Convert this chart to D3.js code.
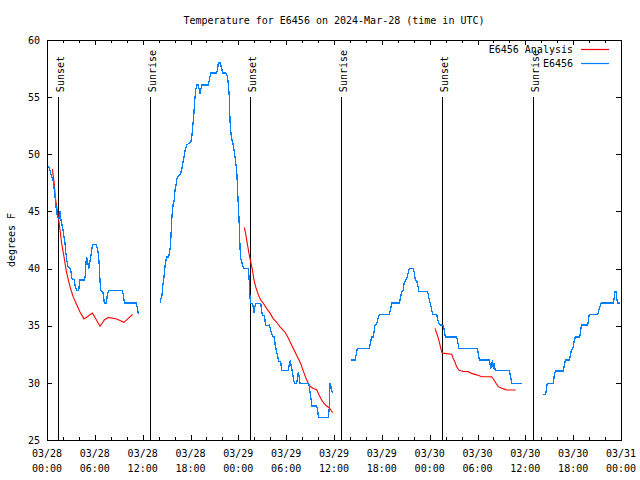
<!DOCTYPE html>
<html>
<head>
<meta charset="utf-8">
<script src="https://cdn.jsdelivr.net/npm/d3@7"></script>
<style>
  html, body { margin: 0; padding: 0; background: #fff; }
  svg { display: block; }
  text { font-family: "DejaVu Sans Mono", "Liberation Mono", monospace; font-size: 10px; fill: #000; }
</style>
</head>
<body>
<div id="chart"></div>
<script>
// ---------------- DATA ----------------
// Times are hours after 2024-03-28 00:00 UTC; values in degrees F
const titleText = "Temperature for E6456 on 2024-Mar-28 (time in UTC)";
const yLabelText = "degrees F";
const seriesNames = ["E6456 Analysis", "E6456"];
const seriesColors = ["#ff0000", "#0080ff"];
const yTickValues = [25, 30, 35, 40, 45, 50, 55, 60];
const yDomain = [25, 60];
const xStartISO = "2024-03-28T00:00:00Z";
const xEndISO = "2024-03-31T00:00:00Z";

const sunLabels = ["Sunset", "Sunrise", "Sunset", "Sunrise", "Sunset", "Sunrise"];
const sunHours = [1.42, 12.96, 25.5, 36.92, 49.59, 61.0];
const sunLineTop = 55;

// Observed E6456 (blue), segments separated by data gaps
const obsSeg1 = [[0.17,49.0],[0.38,48.6],[0.59,48.0],[0.8,47.6],[1.0,46.4],[1.21,44.8],[1.42,44.4],[1.55,44.4],[1.63,45.0],[1.76,44.25],[1.97,43.5],[2.13,42.8],[2.26,42.2],[2.38,41.3],[2.47,40.75],[2.63,40.2],[2.89,40.0],[3.01,39.7],[3.14,39.1],[3.43,39.0],[3.55,38.4],[3.72,38.1],[3.97,38.1],[4.14,39.0],[4.68,39.0],[4.81,39.4],[4.89,40.5],[4.97,41.0],[5.1,40.6],[5.23,40.0],[5.39,40.6],[5.52,41.2],[5.64,41.8],[5.73,42.1],[6.15,42.1],[6.31,41.8],[6.44,41.3],[6.56,40.3],[6.65,38.9],[6.73,38.1],[6.98,38.0],[7.06,37.7],[7.19,37.0],[7.44,37.0],[7.57,37.7],[7.74,38.1],[9.41,38.1],[9.58,37.7],[9.7,37.0],[11.16,37.0],[11.29,36.7],[11.41,36.2],[11.5,36.0]];
const obsSeg2 = [[14.21,36.96],[14.30,37.4],[14.43,37.7],[14.51,38.5],[14.64,39.0],[14.71,39.5],[14.80,40.2],[14.93,40.75],[15.05,41.0],[15.27,41.0],[15.34,41.3],[15.47,41.9],[15.55,42.8],[15.64,44.25],[15.77,45.3],[15.84,45.7],[15.97,46.0],[16.06,46.9],[16.18,47.3],[16.31,47.9],[16.47,48.1],[16.68,48.2],[16.89,48.6],[17.02,49.2],[17.19,49.8],[17.35,50.4],[17.52,50.8],[18.06,51.1],[18.19,51.7],[18.27,52.4],[18.40,53.3],[18.52,54.6],[18.65,55.6],[18.77,56.06],[18.94,56.06],[19.07,55.77],[19.19,55.3],[19.32,55.77],[19.44,56.06],[20.24,56.06],[20.36,56.5],[20.53,57.1],[21.28,57.1],[21.41,57.5],[21.49,58.0],[21.74,58.0],[21.91,57.5],[22.04,57.1],[22.41,57.1],[22.62,56.8],[22.74,56.2],[22.87,55.04],[22.95,53.0],[23.08,51.8],[23.21,51.25],[23.37,50.8],[23.58,49.8],[23.79,48.6],[23.87,47.5],[23.95,46.2],[24.02,45.3],[24.12,43.7],[24.21,41.9],[24.29,40.9],[24.42,40.6],[24.54,40.3],[24.71,40.0],[25.26,40.0],[25.34,39.3],[25.46,37.5],[25.55,36.96],[25.80,36.96],[25.96,36.1],[26.09,36.7],[26.22,36.96],[26.81,36.96],[26.93,36.2],[27.06,35.9],[27.26,35.9],[27.39,35.2],[27.47,35.0],[27.89,35.06],[27.98,34.8],[28.18,34.3],[28.39,34.0],[28.52,34.0],[28.64,33.2],[28.81,32.7],[28.94,32.3],[29.06,31.9],[29.31,31.85],[29.44,31.07],[30.28,31.07],[30.40,31.7],[30.53,32.0],[30.61,31.56],[30.73,31.1],[30.90,30.4],[31.03,29.96],[31.32,29.96],[31.44,30.5],[31.53,30.98],[31.65,30.4],[31.74,29.96],[32.83,29.96],[32.99,29.2],[33.12,28.6],[33.24,27.97],[33.83,27.97],[33.95,27.6],[34.04,26.98],[35.29,26.98],[35.42,27.9],[35.50,29.96],[35.58,29.7],[35.67,29.7],[35.75,29.2],[35.83,29.1]];
const obsSeg3 = [[38.13,32.0],[38.64,32.0],[38.76,32.4],[38.93,33.0],[40.43,33.0],[40.60,33.6],[40.73,34.0],[40.93,34.0],[41.02,34.5],[41.14,35.0],[41.35,35.2],[41.56,35.7],[41.69,36.0],[42.94,36.0],[43.11,36.5],[43.24,37.0],[44.20,37.0],[44.36,37.54],[44.49,38.0],[44.70,38.1],[44.78,38.7],[45.03,39.0],[45.20,39.3],[45.33,39.7],[45.45,40.0],[45.95,40.0],[46.08,39.6],[46.20,39.0],[46.37,38.94],[46.50,38.56],[46.66,38.0],[47.71,38.0],[47.83,37.7],[47.96,37.25],[48.13,36.8],[48.25,36.4],[48.38,36.0],[48.88,36.0],[49.00,35.6],[49.13,35.2],[49.30,35.06],[49.51,35.06],[49.71,35.0],[49.84,34.6],[49.97,34.0],[51.39,34.0],[51.51,33.6],[51.68,33.0],[53.98,33.0],[54.10,32.6],[54.23,32.0],[55.48,32.0],[55.57,31.7],[55.65,31.2],[55.78,31.7],[55.90,32.0],[55.98,31.2],[56.07,31.7],[56.24,31.07],[57.99,31.07],[58.16,30.5],[58.29,29.96],[59.54,29.96]];
const obsSeg4 = [[62.26,29.0],[62.55,29.0],[62.68,29.67],[62.76,29.96],[63.51,29.96],[63.64,30.7],[63.76,31.04],[64.77,31.04],[64.90,31.56],[65.02,32.0],[65.52,32.0],[65.61,32.3],[65.73,32.7],[65.90,33.0],[66.03,33.2],[66.15,33.75],[66.27,34.0],[66.78,34.0],[66.90,34.3],[67.03,35.06],[67.82,35.06],[67.95,35.65],[68.03,36.0],[69.08,36.0],[69.20,36.3],[69.37,36.7],[69.54,37.0],[71.04,37.0],[71.17,37.54],[71.25,38.0],[71.38,38.0],[71.46,37.4],[71.55,37.0],[71.88,37.0]];

// E6456 Analysis (red)
const anaSeg1 = [[0.67,48.7],[0.88,47.6],[1.09,46.0],[1.42,44.5],[1.63,43.4],[1.84,42.2],[2.13,41.04],[2.47,39.6],[2.89,38.4],[3.3,37.5],[3.64,36.96],[4.14,36.2],[4.64,35.6],[5.18,35.85],[5.69,36.1],[6.15,35.56],[6.65,34.95],[7.19,35.5],[7.69,35.73],[8.74,35.59],[9.66,35.3],[10.2,35.64],[10.75,36.0]];
const anaSeg2 = [[24.75,43.6],[24.91,43.1],[25.12,42.2],[25.34,41.3],[25.55,40.6],[25.76,39.9],[25.96,39.0],[26.22,38.3],[26.51,37.7],[26.81,37.25],[27.14,36.96],[27.56,36.5],[27.98,36.1],[28.39,35.6],[28.81,35.3],[29.23,34.9],[29.65,34.6],[29.98,34.3],[30.28,33.9],[30.69,33.3],[31.11,32.7],[31.53,32.1],[31.82,31.7],[32.16,31.0],[32.49,30.4],[32.78,29.96],[32.99,29.7],[33.41,29.5],[33.83,29.4],[34.16,28.9],[34.45,28.5],[34.75,28.2],[35.08,27.97],[35.42,27.8],[35.62,27.6],[35.83,27.4]];
const anaSeg3 = [[48.67,34.77],[48.88,34.33],[49.09,33.9],[49.30,33.31],[49.51,32.7],[49.63,32.6],[50.76,32.5],[50.97,32.1],[51.18,31.8],[51.39,31.4],[51.68,31.1],[52.23,31.0],[52.85,30.98],[53.27,30.83],[53.90,30.7],[54.52,30.54],[55.78,30.54],[56.07,30.25],[56.32,29.96],[56.61,29.67],[57.03,29.52],[57.45,29.43],[57.66,29.375],[58.79,29.375]];

const analysisSegments = [anaSeg1, anaSeg2, anaSeg3];
const observedSegments = [obsSeg1, obsSeg2, obsSeg3, obsSeg4];

// ---------------- CHART ----------------
const W = 640, H = 480;
const margin = { left: 47, right: 19, top: 40, bottom: 40 };
const svg = d3.select("#chart").append("svg").attr("width", W).attr("height", H);

const t0 = new Date(xStartISO);
const toDate = h => new Date(t0.getTime() + h * 3600e3);

const x = d3.scaleUtc().domain([t0, new Date(xEndISO)]).range([margin.left, W - margin.right]);
const y = d3.scaleLinear().domain(yDomain).range([H - margin.bottom, margin.top]);

const x0 = x.range()[0], x1 = x.range()[1], yB = y.range()[0], yT = y.range()[1];

const xEndPlus = new Date(x.domain()[1].getTime() + 1);
const majorTicks = d3.utcHour.every(6).range(x.domain()[0], xEndPlus);
const minorTicks = d3.utcHour.every(2).range(x.domain()[0], xEndPlus);

function styleAxis(g) {
  g.select(".domain").remove();
  g.selectAll(".tick line").attr("stroke", "#000").attr("shape-rendering", "crispEdges");
  g.selectAll(".tick text").style("font-family", "DejaVu Sans Mono, monospace").style("font-size", "10px");
}

svg.append("g").attr("transform", `translate(0,${yB})`)
  .call(d3.axisBottom(x).tickValues(minorTicks).tickSizeInner(-3).tickSizeOuter(0).tickFormat(() => ""))
  .call(styleAxis);
svg.append("g").attr("transform", `translate(0,${yB})`)
  .call(d3.axisBottom(x).tickValues(majorTicks).tickSizeInner(-5).tickSizeOuter(0).tickFormat(() => ""))
  .call(styleAxis);
svg.append("g").attr("transform", `translate(0,${yT})`)
  .call(d3.axisTop(x).tickValues(minorTicks).tickSizeInner(-3).tickSizeOuter(0).tickFormat(() => ""))
  .call(styleAxis);
svg.append("g").attr("transform", `translate(0,${yT})`)
  .call(d3.axisTop(x).tickValues(majorTicks).tickSizeInner(-5).tickSizeOuter(0).tickFormat(() => ""))
  .call(styleAxis);

svg.append("g").attr("transform", `translate(${x0},0)`)
  .call(d3.axisLeft(y).tickValues(yTickValues).tickSizeInner(-5).tickSizeOuter(0).tickPadding(7).tickFormat(d3.format("d")))
  .call(styleAxis);
svg.append("g").attr("transform", `translate(${x1},0)`)
  .call(d3.axisRight(y).tickValues(yTickValues).tickSizeInner(-5).tickSizeOuter(0).tickFormat(() => ""))
  .call(styleAxis);

// X tick labels (two lines)
const fmtDate = d3.utcFormat("%m/%d");
const fmtTime = d3.utcFormat("%H:%M");
const xl = svg.append("g").attr("class", "xlabels");
xl.selectAll("text.d").data(majorTicks).join("text").attr("class", "d")
  .attr("x", d => x(d)).attr("y", yB + 17).attr("text-anchor", "middle").text(d => fmtDate(d));
xl.selectAll("text.t").data(majorTicks).join("text").attr("class", "t")
  .attr("x", d => x(d)).attr("y", yB + 32).attr("text-anchor", "middle").text(d => fmtTime(d));

// Frame
svg.append("rect").attr("x", x0).attr("y", yT).attr("width", x1 - x0).attr("height", yB - yT)
  .attr("fill", "none").attr("stroke", "#000").attr("shape-rendering", "crispEdges");

// Title
svg.append("text").attr("x", (x0 + x1) / 2).attr("y", 24).attr("text-anchor", "middle").text(titleText);

// Y label
svg.append("text").attr("transform", `translate(15,${(yT + yB) / 2}) rotate(-90)`)
  .attr("text-anchor", "middle").text(yLabelText);

// Sun lines & labels
const sunData = sunHours.map((h, i) => ({ t: toDate(h), label: sunLabels[i] }));
const sunG = svg.append("g");
sunG.selectAll("line.sun").data(sunData).join("line").attr("class", "sun")
  .attr("x1", d => x(d.t)).attr("x2", d => x(d.t))
  .attr("y1", y(sunLineTop)).attr("y2", yB)
  .attr("stroke", "#000").attr("stroke-width", 1).attr("shape-rendering", "crispEdges");
sunG.selectAll("text.sun").data(sunData).join("text").attr("class", "sun")
  .attr("transform", d => `translate(${x(d.t) + 5.5},${y(sunLineTop) - 5}) rotate(-90)`)
  .attr("text-anchor", "start").text(d => d.label);

// Lines
const line = d3.line().x(d => x(toDate(d[0]))).y(d => y(d[1]));
const plot = svg.append("g");
plot.selectAll("path.ana").data(analysisSegments).join("path").attr("class", "ana")
  .attr("d", line).attr("fill", "none").attr("stroke", seriesColors[0]).attr("stroke-width", 1.1);
plot.selectAll("path.obs").data(observedSegments).join("path").attr("class", "obs")
  .attr("d", line).attr("fill", "none").attr("stroke", seriesColors[1]).attr("stroke-width", 1.3)
  .attr("shape-rendering", "crispEdges");

// Legend
const legendRows = seriesNames.map((name, i) => ({ name, color: seriesColors[i], i }));
const legend = svg.append("g").attr("class", "legend");
const rows = legend.selectAll("g.row").data(legendRows).join("g").attr("class", "row")
  .attr("transform", d => `translate(0,${49 + d.i * 14})`);
rows.append("text").attr("x", 573).attr("y", 0).attr("dy", "0.35em").attr("text-anchor", "end").text(d => d.name);
rows.append("path").attr("d", "M581,0.5H609").attr("fill", "none")
  .style("stroke", d => d.color).style("stroke-width", "1.2px");
</script>
</body>
</html>
